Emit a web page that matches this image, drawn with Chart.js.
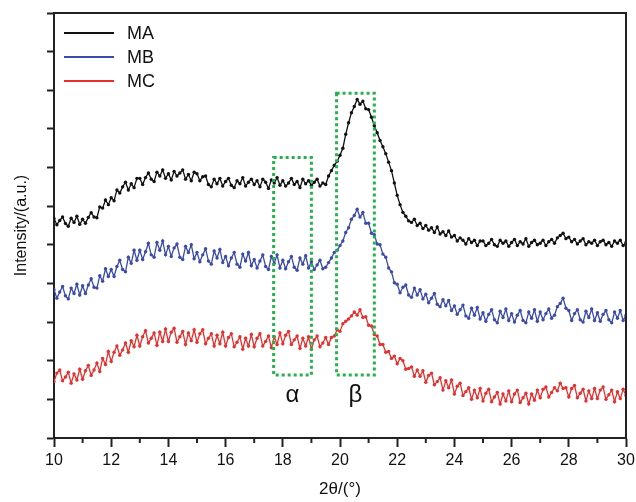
<!DOCTYPE html>
<html>
<head>
<meta charset="utf-8">
<script src="https://cdn.jsdelivr.net/npm/chart.js@4"></script>
<style>
html,body{margin:0;padding:0;background:#fff;}
#wrap{width:636px;height:502px;position:relative;}
</style>
</head>
<body>
<div id="wrap"><canvas id="c" width="636" height="502"></canvas></div>
<script>
// 2θ sampling grid of the scan
const xStart = 10, xStep = 0.1;
const seriesNames = ["MA", "MB", "MC"];
const seriesColors = ["#111111", "#3b4bab", "#e6302e"];
const xTicks = [10, 12, 14, 16, 18, 20, 22, 24, 26, 28, 30];

const MA = [5.68,5.52,5.63,5.72,5.55,5.48,5.69,5.58,5.74,5.53,
5.66,5.56,5.71,5.83,5.72,5.70,5.98,5.95,6.16,6.04,
6.22,6.14,6.42,6.34,6.50,6.62,6.42,6.58,6.48,6.72,
6.72,6.56,6.74,6.86,6.70,6.64,6.88,6.78,6.94,6.72,
6.84,6.68,6.90,6.78,6.86,6.94,6.70,6.82,6.66,6.88,
6.84,6.66,6.76,6.78,6.56,6.50,6.70,6.58,6.72,6.52,
6.64,6.72,6.54,6.48,6.66,6.58,6.74,6.52,6.62,6.70,
6.56,6.66,6.50,6.70,6.62,6.46,6.68,6.60,6.74,6.54,
6.66,6.52,6.60,6.72,6.56,6.64,6.48,6.70,6.58,6.66,
6.54,6.62,6.70,6.52,6.60,6.56,6.78,6.92,7.06,7.16,
7.32,7.50,7.86,8.16,8.42,8.58,8.76,8.64,8.72,8.52,
8.50,8.30,8.08,7.90,7.70,7.54,7.36,7.14,6.92,6.60,
6.28,6.04,5.84,5.74,5.62,5.58,5.66,5.50,5.56,5.42,
5.50,5.38,5.44,5.32,5.46,5.28,5.34,5.24,5.36,5.20,
5.24,5.10,5.18,5.12,5.02,5.16,5.06,5.12,4.98,5.10,
5.10,4.98,5.04,5.14,5.00,4.96,5.12,5.04,5.10,4.96,
5.06,5.14,4.98,5.08,5.02,5.16,4.96,5.06,5.12,5.00,
5.04,5.12,4.98,5.08,5.14,5.04,5.18,5.24,5.30,5.16,
5.20,5.08,5.14,5.02,5.10,5.16,5.00,5.08,5.04,5.12,
4.98,5.08,5.12,5.00,5.06,4.96,5.10,5.04,5.12,4.98,
5.06];

const MB = [3.84,3.62,3.78,3.92,3.68,3.60,3.88,3.74,3.98,3.70,
3.94,3.74,3.96,4.12,3.90,3.88,4.20,4.06,4.38,4.18,
4.36,4.18,4.44,4.60,4.36,4.30,4.68,4.52,4.86,4.60,
4.86,4.62,4.82,5.04,4.74,4.68,5.06,4.86,5.10,4.74,
4.96,4.70,4.92,5.02,4.68,4.62,4.96,4.80,5.00,4.64,
4.80,4.56,4.74,4.90,4.58,4.50,4.84,4.66,4.88,4.54,
4.70,4.46,4.66,4.80,4.50,4.42,4.76,4.58,4.80,4.46,
4.62,4.40,4.58,4.74,4.44,4.36,4.70,4.52,4.74,4.40,
4.60,4.38,4.56,4.70,4.42,4.34,4.66,4.50,4.72,4.40,
4.56,4.36,4.48,4.60,4.38,4.42,4.54,4.66,4.80,4.86,
4.98,5.10,5.32,5.44,5.66,5.76,5.92,5.72,5.84,5.56,
5.56,5.30,5.26,5.02,5.00,4.76,4.68,4.40,4.30,4.02,
3.98,3.76,3.90,3.96,3.70,3.64,3.88,3.70,3.84,3.60,
3.72,3.50,3.62,3.74,3.46,3.40,3.58,3.42,3.56,3.30,
3.42,3.20,3.32,3.44,3.16,3.10,3.36,3.18,3.38,3.08,
3.24,3.02,3.20,3.32,3.06,2.98,3.28,3.12,3.34,3.04,
3.22,3.00,3.18,3.30,3.04,2.98,3.26,3.10,3.32,3.02,
3.26,3.06,3.22,3.34,3.10,3.18,3.40,3.48,3.62,3.36,
3.30,3.04,3.22,3.32,3.06,3.00,3.28,3.12,3.34,3.04,
3.24,3.02,3.20,3.30,3.06,2.98,3.26,3.10,3.30,3.04,
3.18];

const MC = [1.46,1.68,1.76,1.48,1.58,1.70,1.42,1.66,1.50,1.78,
1.52,1.74,1.88,1.62,1.76,1.94,1.72,2.06,1.90,2.24,
1.98,2.22,2.38,2.14,2.28,2.46,2.22,2.52,2.36,2.66,
2.38,2.62,2.78,2.46,2.58,2.72,2.40,2.74,2.50,2.82,
2.50,2.74,2.84,2.48,2.62,2.76,2.42,2.72,2.52,2.80,
2.48,2.70,2.80,2.44,2.58,2.70,2.38,2.66,2.44,2.74,
2.38,2.60,2.70,2.36,2.48,2.62,2.30,2.58,2.38,2.68,
2.36,2.58,2.70,2.38,2.50,2.64,2.34,2.62,2.42,2.72,
2.44,2.66,2.76,2.42,2.54,2.64,2.32,2.58,2.38,2.62,
2.30,2.54,2.64,2.36,2.46,2.60,2.42,2.60,2.64,2.80,
2.76,2.96,3.02,3.08,3.16,3.26,3.18,3.32,3.12,3.14,
2.92,2.90,2.68,2.64,2.42,2.42,2.22,2.24,2.06,2.12,
1.92,2.06,2.00,1.78,1.80,1.84,1.60,1.76,1.60,1.74,
1.44,1.62,1.68,1.38,1.46,1.56,1.24,1.48,1.30,1.50,
1.14,1.34,1.42,1.10,1.20,1.30,1.00,1.24,1.04,1.28,
0.96,1.16,1.26,0.94,1.06,1.18,0.88,1.14,0.96,1.22,
0.94,1.14,1.24,0.92,1.04,1.16,0.88,1.14,0.98,1.24,
1.04,1.26,1.32,1.06,1.18,1.30,1.22,1.42,1.28,1.30,
1.06,1.28,1.36,1.04,1.16,1.26,0.96,1.22,1.02,1.28,
1.02,1.24,1.32,1.00,1.12,1.24,0.94,1.20,1.02,1.26,
1.10];

// Highlight boxes: [xMin, xMax, yMin, yMax] and their labels
const boxAlpha = [17.68, 19.0, 1.63, 7.26];
const boxBeta = [19.88, 21.2, 1.63, 8.92];
const boxLabels = ["α", "β"];

const allSeries = [MA, MB, MC];

function toPoints(arr){
  return arr.map((v, i) => ({x: xStart + i * xStep, y: v}));
}

const FONT = "'Liberation Sans', Arial, sans-serif";

const decorPlugin = {
  id: 'decor',
  afterDatasetsDraw(chart){
    const {ctx, scales: {x, y}} = chart;
    ctx.save();
    ctx.strokeStyle = '#27b04e';
    ctx.lineWidth = 3;
    ctx.setLineDash([3, 3]);
    [boxAlpha, boxBeta].forEach(b => {
      const x0 = x.getPixelForValue(b[0]), x1 = x.getPixelForValue(b[1]);
      const y0 = y.getPixelForValue(b[3]), y1 = y.getPixelForValue(b[2]);
      ctx.strokeRect(x0, y0, x1 - x0, y1 - y0);
    });
    ctx.setLineDash([]);
    ctx.fillStyle = '#111';
    ctx.font = '24px ' + FONT;
    ctx.textAlign = 'center';
    ctx.textBaseline = 'middle';
    [boxAlpha, boxBeta].forEach((b, i) => {
      const cx = (x.getPixelForValue(b[0]) + x.getPixelForValue(b[1])) / 2;
      const cy = y.getPixelForValue(b[2]) + 20;
      ctx.fillText(boxLabels[i], cx, cy);
    });
    ctx.restore();
  },
  afterDraw(chart){
    const {ctx, chartArea: a, scales: {x}} = chart;
    ctx.save();
    ctx.strokeStyle = '#222';
    ctx.lineWidth = 2;
    ctx.beginPath();
    ctx.moveTo(a.left, a.top);
    ctx.lineTo(a.right, a.top);
    ctx.lineTo(a.right, a.bottom);
    ctx.stroke();
    for (let v = 11; v < 30; v += 2) {
      const px = x.getPixelForValue(v);
      ctx.beginPath();
      ctx.moveTo(px, a.bottom);
      ctx.lineTo(px, a.bottom + 5);
      ctx.stroke();
    }
    ctx.font = '18px ' + FONT;
    ctx.textAlign = 'left';
    ctx.textBaseline = 'middle';
    seriesNames.forEach((n, i) => {
      const yy = a.top + 20 + i * 24;
      ctx.strokeStyle = seriesColors[i];
      ctx.lineWidth = 2;
      ctx.beginPath();
      ctx.moveTo(a.left + 10, yy);
      ctx.lineTo(a.left + 60, yy);
      ctx.stroke();
      ctx.fillStyle = '#111';
      ctx.fillText(n, a.left + 73, yy + 1);
    });
    ctx.restore();
  }
};

new Chart(document.getElementById('c'), {
  type: 'line',
  data: {
    datasets: allSeries.map((s, i) => ({
      label: seriesNames[i],
      data: toPoints(s),
      borderColor: seriesColors[i],
      backgroundColor: seriesColors[i],
      borderWidth: 1.3,
      pointRadius: 1.7,
      pointBorderWidth: 0,
      tension: 0,
      fill: false
    }))
  },
  options: {
    responsive: false,
    animation: false,
    devicePixelRatio: 1,
    layout: {padding: {top: 13, right: 10, left: 0, bottom: 0}},
    plugins: {legend: {display: false}, tooltip: {enabled: false}},
    scales: {
      x: {
        type: 'linear',
        min: 10, max: 30,
        afterBuildTicks(scale){ scale.ticks = xTicks.map(v => ({value: v})); },
        afterFit(scale){ scale.height = 64; scale.paddingRight = 0; scale.paddingLeft = 0; },
        ticks: {
          color: '#111',
          font: {size: 16, family: FONT},
          padding: 4,
          maxRotation: 0
        },
        grid: {drawOnChartArea: false, drawTicks: true, tickLength: 9, tickColor: '#222', tickWidth: 2},
        border: {display: true, color: '#222', width: 2},
        title: {display: true, text: '2θ/(°)', color: '#111', font: {size: 17, family: FONT}, padding: {top: 4, bottom: 2}}
      },
      y: {
        type: 'linear',
        min: 0, max: 11,
        ticks: {stepSize: 1, callback: () => '', padding: 0},
        afterFit(scale){ scale.width = 54; },
        grid: {drawOnChartArea: false, drawTicks: true, tickLength: 7, tickColor: '#222', tickWidth: 2},
        border: {display: true, color: '#222', width: 2},
        title: {display: true, text: 'Intensity/(a.u.)', color: '#111', font: {size: 16, family: FONT}, padding: {top: 12, bottom: 0}}
      }
    }
  },
  plugins: [decorPlugin]
});
</script>
</body>
</html>
